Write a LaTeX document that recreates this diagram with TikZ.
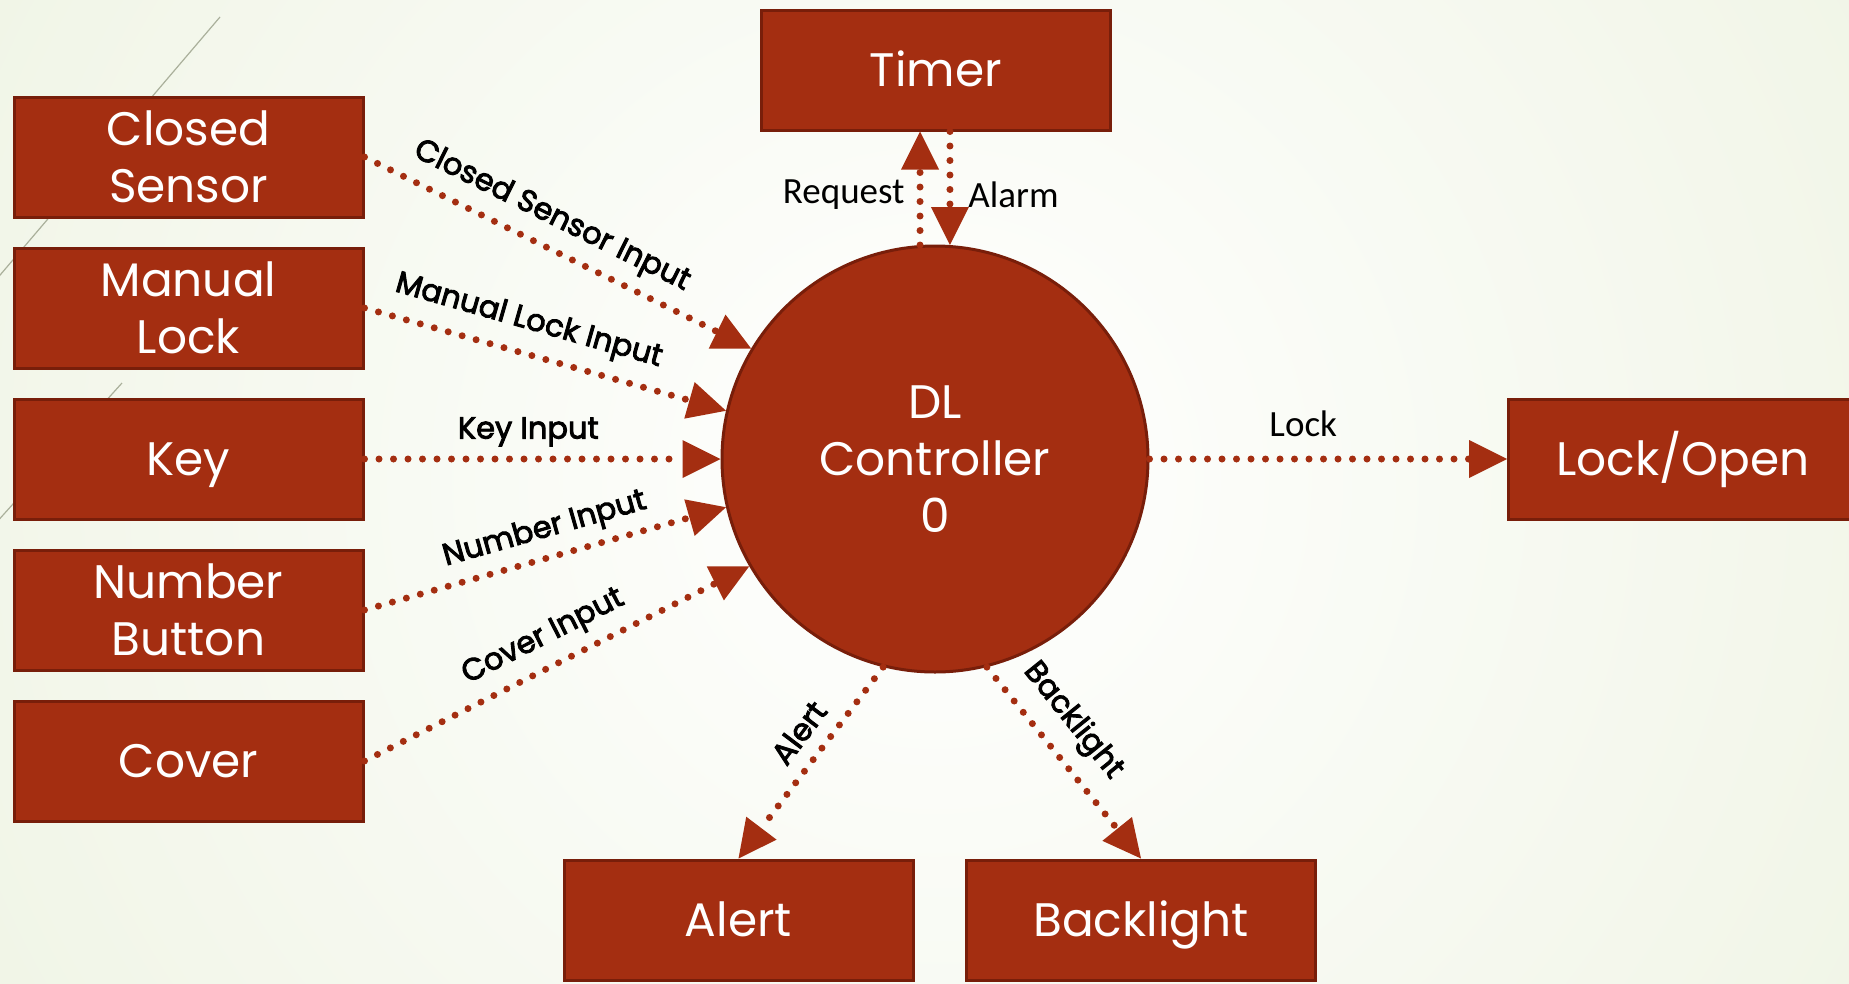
\documentclass[tikz,border=0pt]{standalone}
\usepackage{fontspec}
\setmainfont{Poppins}
\newfontfamily\calfont{Carlito}
\newfontfamily\labfont{Poppins}[FakeBold=3]
\usetikzlibrary{arrows.meta,calc}
\definecolor{rust}{RGB}{164,46,17}
\definecolor{rustdark}{RGB}{120,30,10}
\definecolor{bgout}{RGB}{226,235,206}
\definecolor{deco}{RGB}{170,176,155}
\begin{document}
\begin{tikzpicture}[x=1pt,y=-1pt,
  box/.style={draw=rustdark, line width=3pt, fill=rust, minimum width=349pt, minimum height=120pt,
    text=white, font=\fontsize{47}{57}\selectfont, align=center, inner sep=0pt},
  one/.style={text height=33pt, text depth=0pt},
  ctrlnode/.style={circle, draw=rustdark, line width=3pt, fill=rust, minimum size=426pt, inner sep=0pt,
    text=white, font=\fontsize{47}{57}\selectfont, align=center},
  conn/.style={draw=rust, line width=7pt, line cap=round, dash pattern=on 0pt off 14.5pt,
    -{Triangle[length=38pt,width=38pt,line width=0pt 0]}},
  lab/.style={font=\labfont\fontsize{30.5}{34}\selectfont, text=black, inner sep=0pt},
  clab/.style={font=\calfont\fontsize{37}{40}\selectfont, text=black, inner sep=0pt},
  decoline/.style={draw=deco, line width=1.2pt}]
\useasboundingbox (0,0) rectangle (1849,983);
% background
\fill[bgout] (0,0) rectangle (1849,983);
\begin{scope}
  \clip (0,0) rectangle (1849,983);
  \shade[inner color=white, outer color=bgout] (935,480) circle (2150pt);
\end{scope}
\draw[decoline] (220,17) -- (-5,281);
\draw[decoline] (122,383) -- (-5,524);
% nodes
\node[box] (cs) at (188.5,157) {Closed\\Sensor};
\node[box] (ml) at (188.5,308) {Manual\\Lock};
\node[box, one] (key) at (188.5,459) {Key};
\node[box] (nb) at (188.5,610) {Number\\Button};
\node[box, one] (cov) at (188.5,761) {Cover};
\node[box, one] (timer) at (936,70) {Timer};
\node[box, one] (lo) at (1683,459) {Lock/Open};
\node[box, one] (alert) at (738.5,920) {Alert};
\node[box, one] (bl) at (1141,920) {Backlight};
\node[ctrlnode] (ctrl) at (935,459) {DL\\Controller\\0};
% connectors
\draw[conn] (cs.east) -- node[lab, sloped, above=11pt, pos=0.45] {Closed Sensor Input} (ctrl.149.5);
\draw[conn] (ml.east) -- node[lab, sloped, above=13pt, pos=0.43] {Manual Lock Input} (ctrl.167);
\draw[conn] (key.east) -- node[lab, above=9pt, pos=0.46] {Key Input} (ctrl.west);
\draw[conn] (nb.east) -- node[lab, sloped, above=9pt, pos=0.52] {Number Input} (ctrl.193);
\draw[conn] (cov.east) -- node[lab, sloped, above=11pt, pos=0.5] {Cover Input} (ctrl.210.5);
\draw[conn] (ctrl.94) -- node[clab, left=12pt, pos=0.44] {Request} (ctrl.94 |- timer.south);
\draw[conn] (ctrl.86 |- timer.south) -- node[clab, right=15pt, pos=0.56] {Alarm} (ctrl.86);
\draw[conn] (ctrl.east) -- node[clab, above=19pt, pos=0.43] {Lock} (lo.west);
\draw[conn] (ctrl.256) -- node[lab, sloped, above=13pt, pos=0.43] {Alert} (alert.north);
\draw[conn] (ctrl.284) -- node[lab, sloped, above=14pt, pos=0.39] {Backlight} (bl.north);
\end{tikzpicture}
\end{document}
